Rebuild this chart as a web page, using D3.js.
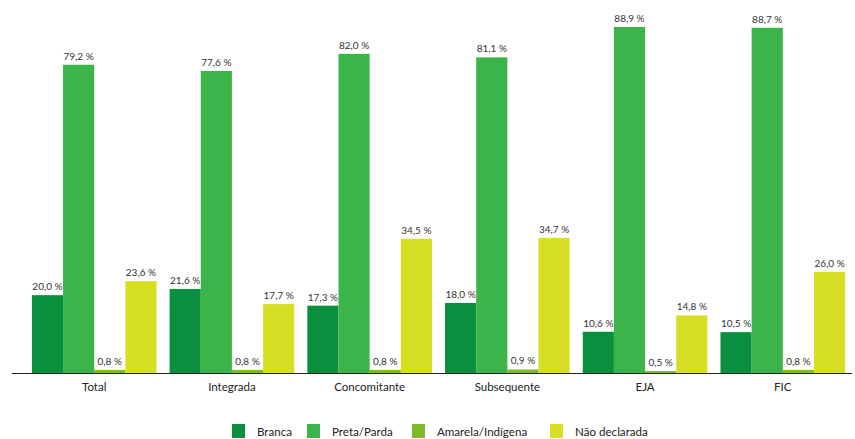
<!DOCTYPE html>
<html><head><meta charset="utf-8">
<script src="https://cdn.jsdelivr.net/npm/d3@7"></script>
<style>body{margin:0;background:#fff;}svg{display:block;font-family:Lato,"Open Sans",sans-serif;}</style>
</head><body>
<svg id="c" width="855" height="439"></svg>
<script>
const categories = ["Total","Integrada","Concomitante","Subsequente","EJA","FIC"];
const seriesNames = ["Branca","Preta/Parda","Amarela/Indígena","Não declarada"];
const branca = [20.0,21.6,17.3,18.0,10.6,10.5];
const preta = [79.2,77.6,82.0,81.1,88.9,88.7];
const amarela = [0.8,0.8,0.8,0.9,0.5,0.8];
const naoDecl = [23.6,17.7,34.5,34.7,14.8,26.0];
const colors = ["#0a8f3e","#3bb54a","#7dbb2c","#d6df23"];
const series = [branca,preta,amarela,naoDecl];

const svg = d3.select("#c");
const base = 373;
const x0 = d3.scaleBand().domain(categories).range([25,852]).paddingInner(0.095).paddingOuter(0.05);
const x1 = d3.scaleBand().domain(seriesNames).range([0,x0.bandwidth()]);
const y = d3.scaleLinear().domain([0,88.9]).range([base,27]);
const fmt = v => v.toFixed(1).replace(".",",") + " %";

categories.forEach((c,i)=>{
  const g = svg.append("g").attr("transform",`translate(${x0(c)},0)`);
  seriesNames.forEach((s,j)=>{
    const v = series[j][i];
    g.append("rect").attr("x",x1(s)).attr("width",x1.bandwidth()).attr("y",y(v)).attr("height",base-y(v)).attr("fill",colors[j]);
    g.append("text").attr("x",x1(s)+x1.bandwidth()/2).attr("y",y(v)-5).attr("text-anchor","middle")
      .attr("font-size",10).attr("fill","#333").text(fmt(v));
  });
});
const xAxis = svg.append("g").attr("transform",`translate(0,${base})`).call(d3.axisBottom(x0).tickSize(0).tickPadding(10));
xAxis.select(".domain").remove();
xAxis.selectAll("text").attr("font-size",11.5).attr("fill","#222").attr("font-family","Lato,'Open Sans',sans-serif");
svg.append("line").attr("x1",12).attr("x2",852).attr("y1",base+0.5).attr("y2",base+0.5).attr("stroke","#222").attr("stroke-width",1);

const legX = [232,307,412,550];
seriesNames.forEach((s,j)=>{
  svg.append("rect").attr("x",legX[j]).attr("y",424).attr("width",13).attr("height",14).attr("fill",colors[j]);
  svg.append("text").attr("x",legX[j]+25).attr("y",436).attr("font-size",11.6).attr("fill","#222").text(s);
});
</script>
</body></html>
